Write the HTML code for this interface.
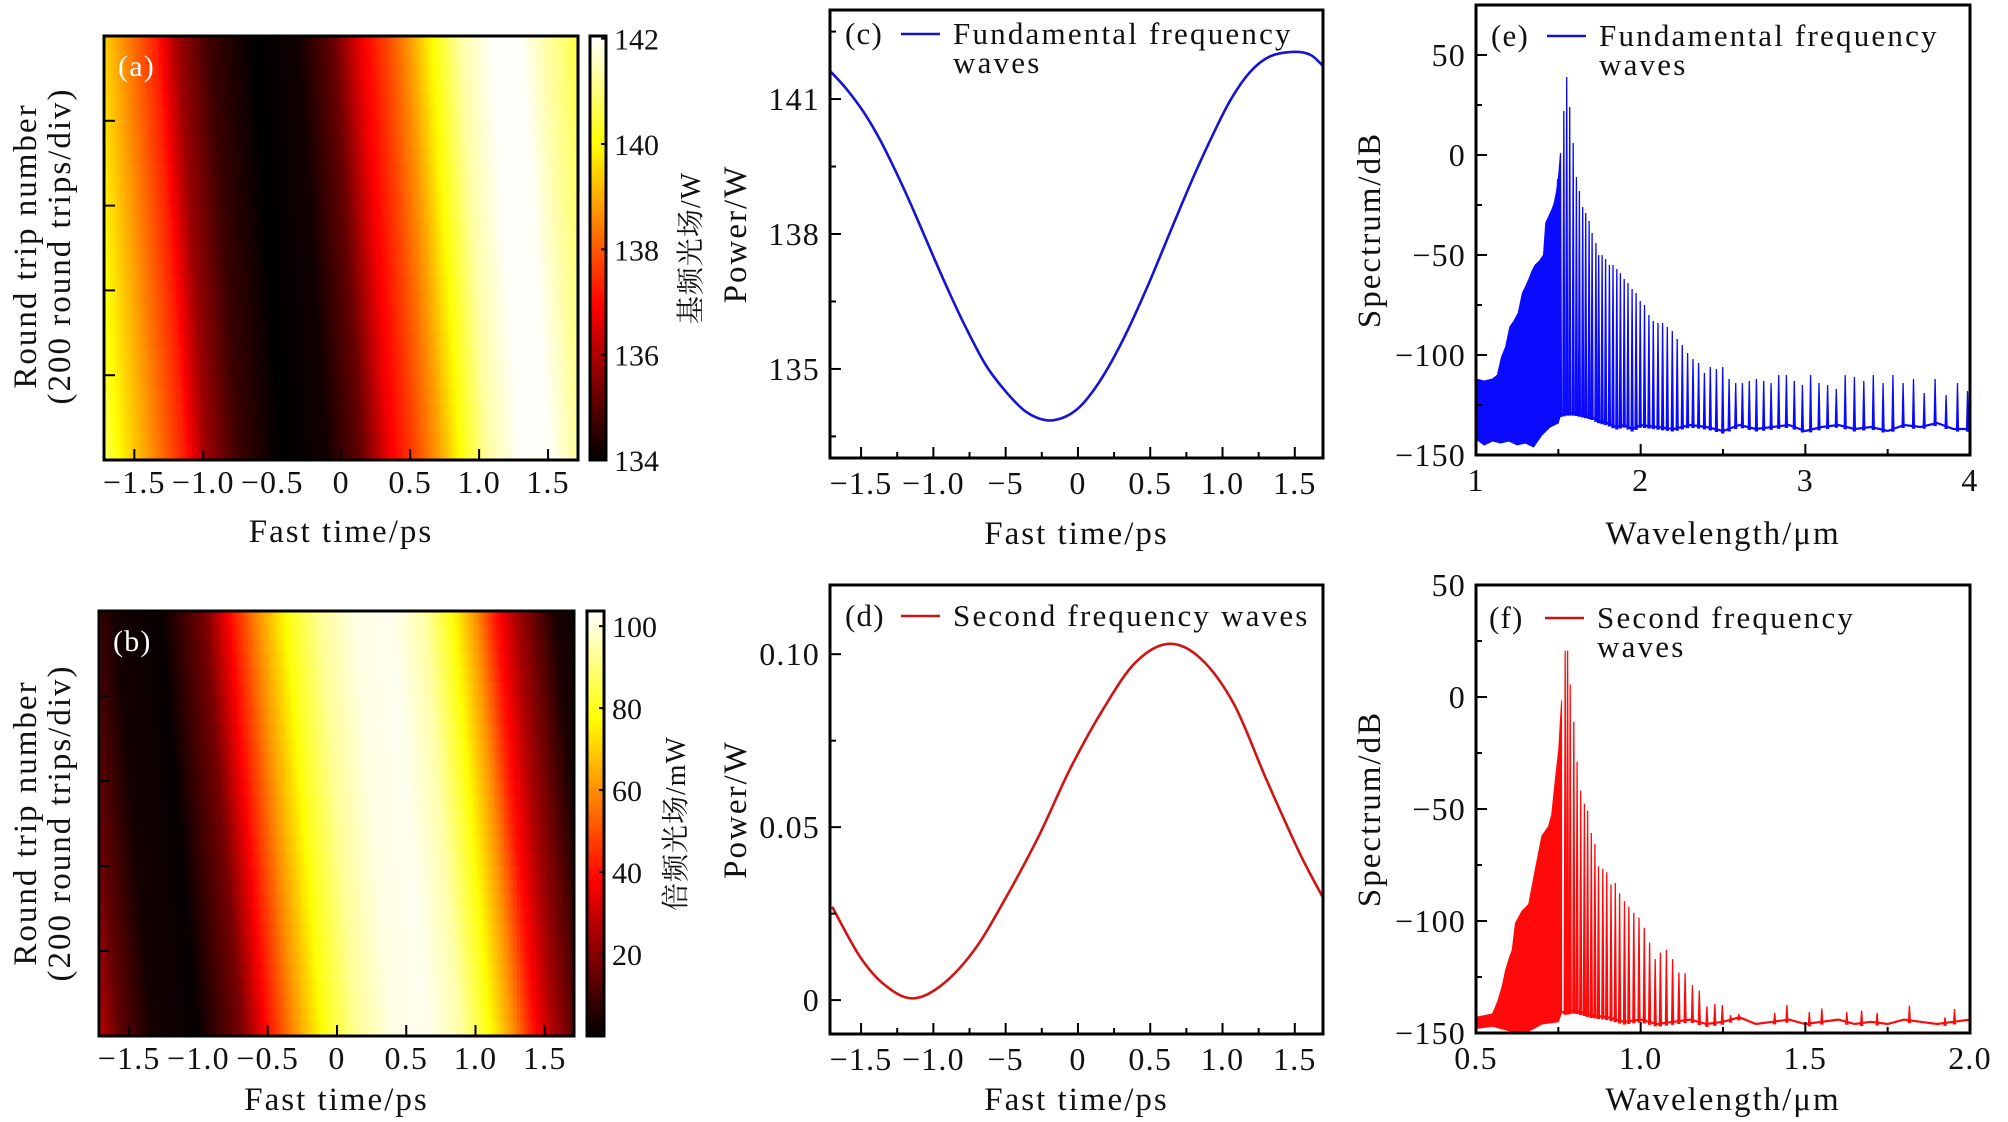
<!DOCTYPE html>
<html><head><meta charset="utf-8">
<style>
html,body{margin:0;padding:0;background:#fff;}
svg{display:block;}
text{font-family:"Liberation Serif","Noto Serif CJK SC",serif;fill:#111;}
</style></head>
<body>
<svg id="chart" width="2008" height="1122" viewBox="0 0 2008 1122" xmlns="http://www.w3.org/2000/svg">
<defs>
<clipPath id="clipA"><rect x="104" y="36" width="474" height="424"/></clipPath>
<clipPath id="clipB"><rect x="99" y="611" width="475" height="425"/></clipPath>
<clipPath id="clipC"><rect x="830" y="10" width="493" height="448"/></clipPath>
<clipPath id="clipD"><rect x="830" y="585" width="493" height="449"/></clipPath>
<clipPath id="clipE"><rect x="1476" y="5" width="494" height="450"/></clipPath>
<clipPath id="clipF"><rect x="1476" y="585" width="494" height="448"/></clipPath>
</defs>
</svg>
<script>
// ---------- DATA ----------
const cTime  = [-1.71,-1.60,-1.48,-1.37,-1.26,-1.15,-1.00,-0.89,-0.78,-0.64,-0.50,-0.36,-0.22,-0.10,0.01,0.12,0.23,0.35,0.49,0.60,0.71,0.81,0.91,1.05,1.19,1.33,1.50,1.61,1.69];
const cPower = [141.61,141.22,140.70,140.10,139.39,138.62,137.50,136.70,135.95,135.10,134.50,134.05,133.86,133.92,134.15,134.58,135.15,135.90,136.90,137.75,138.60,139.35,140.05,140.95,141.60,141.95,142.05,141.98,141.75];
const dTime  = [-1.70,-1.51,-1.34,-1.15,-0.95,-0.72,-0.50,-0.27,-0.05,0.18,0.40,0.63,0.85,1.08,1.30,1.53,1.69];
const dPower = [0.0270,0.0127,0.0045,0.0005,0.0041,0.0143,0.0295,0.0475,0.0672,0.0845,0.0977,0.1030,0.0987,0.0855,0.0641,0.0428,0.0300];
const aTime  = [-1.85,-1.72,-1.50,-1.24,-1.08,-0.85,-0.53,-0.21,0.05,0.25,0.44,0.60,0.76,0.96,1.19,1.41,1.60,1.70,1.85];
const aPower = [141.0,140.0,138.8,137.3,135.8,134.7,134.0,134.2,135.2,136.8,137.8,138.8,140.0,141.3,142.0,142.0,141.3,141.0,140.3];
const aRowShift = [0.10,0.05,0.00,-0.05,-0.10];
const bTime  = [-1.85,-1.71,-1.47,-1.14,-0.82,-0.63,-0.44,-0.21,0.01,0.27,0.53,0.76,0.95,1.14,1.27,1.43,1.71,1.85];
const bPower = [28,15,3,1,18,40,60,80,93,101,102,95,80,60,42,25,4,2];
const bRowShift = [0.13,0.065,0.00,-0.065,-0.13];
const eEnvL = [1.0,1.05,1.1,1.13,1.155,1.18,1.205,1.23,1.256,1.282,1.30,1.321,1.34,1.359,1.385,1.41,1.423,1.44,1.462,1.475,1.487,1.50,1.513];
const eEnvV = [-112,-113,-112,-110,-101,-96,-86,-83,-79,-69,-66,-62,-58,-55,-53,-50,-34,-31,-27,-24,-19,-12,1];
const ePeakL = [1.551,1.569,1.533,1.590,1.513,1.610,1.495,1.628,1.648,1.666,1.687,1.705,1.728,1.745,1.766,1.787,1.810,1.832,1.855,1.877,1.900,1.923,1.948,1.972,1.997,2.023,2.050,2.077,2.105,2.133,2.162,2.192,2.222,2.253,2.285,2.318,2.352,2.387,2.423,2.460,2.498,2.537,2.577,2.618,2.660,2.703,2.747,2.792,2.838,2.885,2.933,2.982,3.032,3.083,3.135,3.188,3.242,3.298,3.355,3.413,3.472,3.532,3.594,3.657,3.722,3.788,3.855,3.924,3.985];
const ePeakV = [39,24,22,6,1,-11,-12,-18,-26,-29,-33,-39,-44,-50,-50,-52,-55,-55,-57,-59,-62,-64,-67,-69,-73,-75,-80,-83,-84,-84,-86,-88,-92,-95,-99,-102,-104,-109,-106,-107,-106,-112,-114,-114,-113,-112,-113,-114,-110,-110,-113,-115,-110,-114,-115,-117,-110,-111,-113,-110,-114,-110,-114,-112,-119,-112,-120,-114,-118];
const eFloorL = [1.0,1.05,1.1,1.15,1.2,1.25,1.3,1.35,1.4,1.45,1.5,1.55,1.6,1.65,1.7,1.75,1.8,1.85,1.9,1.95,2.0,2.1,2.2,2.3,2.4,2.5,2.6,2.7,2.8,2.9,3.0,3.1,3.2,3.3,3.4,3.5,3.6,3.7,3.8,3.9,4.0];
const eFloorV = [-138,-141,-139,-140,-139,-141,-140,-142,-136,-132,-130,-129,-129,-130,-131,-133,-134,-136,-135,-137,-135,-136,-137,-135,-136,-138,-135,-137,-136,-135,-138,-136,-135,-137,-136,-138,-135,-136,-134,-137,-137];
const fEnvL = [0.5,0.55,0.566,0.58,0.59,0.60,0.61,0.62,0.64,0.66,0.68,0.70,0.72,0.73,0.741,0.751,0.76];
const fEnvV = [-143,-141.5,-136,-129,-122,-117,-113,-101,-95.5,-92.6,-77,-62,-57.8,-52.6,-36.7,-23.7,-1.5];
const fPeakL = [0.771,0.778,0.786,0.797,0.807,0.818,0.829,0.839,0.850,0.861,0.872,0.885,0.897,0.910,0.923,0.936,0.951,0.964,0.979,0.995,1.011,1.027,1.044,1.060,1.078,1.097,1.116,1.135,1.157,1.178,1.201,1.225,1.248,1.273,1.298,1.407,1.444,1.512,1.550,1.626,1.671,1.718,1.816,1.924,1.953];
const fPeakV = [20.7,20.7,5.6,-11.1,-28.9,-41.8,-47.7,-50.7,-60.7,-65.5,-75.6,-76.7,-78.2,-83.7,-83.0,-87.7,-91.1,-93.6,-96.3,-98.5,-103.0,-109.6,-117.0,-114.1,-112.9,-117.0,-123.0,-123.3,-128.6,-131.1,-138.1,-137.0,-137.5,-142.0,-141.5,-141,-137.5,-140.7,-139,-140.7,-140,-141,-137.8,-143,-139.3];
const fFloorL = [0.5,0.55,0.6,0.65,0.7,0.75,0.8,0.85,0.9,0.95,1.0,1.05,1.1,1.15,1.2,1.25,1.3,1.35,1.4,1.45,1.5,1.55,1.6,1.65,1.7,1.75,1.8,1.85,1.9,1.95,2.0];
const fFloorV = [-144,-143,-145,-146,-142,-141,-140,-142,-143,-145,-144,-146,-145,-144,-146,-145,-143,-146,-145,-144,-146,-145,-144,-146,-145,-146,-144,-145,-146,-145,-144];
const tTicks = [-1.5,-1.0,-0.5,0,0.5,1.0,1.5];
const tLabelsHeat = ['−1.5','−1.0','−0.5','0','0.5','1.0','1.5'];
const tLabelsLine = ['−1.5','−1.0','−5','0','0.5','1.0','1.5'];
const cYTicks = [135,138,141];
const dYTicks = [0,0.05,0.10];
const dYLabels = ['0','0.05','0.10'];
const eXTicks = [1,2,3,4];
const fXTicks = [0.5,1.0,1.5,2.0];
const fXLabels = ['0.5','1.0','1.5','2.0'];
const specYTicks = [-150,-100,-50,0,50];
const specYLabels = ['−150','−100','−50','0','50'];
const rtTicks = [200,400,600,800];
const cbATicks = [134,136,138,140,142];
const cbBTicks = [20,40,60,80,100];

// ---------- HELPERS ----------
const NS='http://www.w3.org/2000/svg';
const svg=document.getElementById('chart');
const FS=32, LS=1.2;
function mk(tag,parent){const e=document.createElementNS(NS,tag);(parent||svg).appendChild(e);return e;}
function set(e,o){for(const k in o)e.setAttribute(k,o[k]);return e;}
function lin(xs,ys,x){if(x<=xs[0])return ys[0];for(let i=1;i<xs.length;i++){if(x<=xs[i]){const f=(x-xs[i-1])/(xs[i]-xs[i-1]);return ys[i-1]+f*(ys[i]-ys[i-1]);}}return ys[ys.length-1];}
function mkScale(d0,d1,r0,r1){return v=>r0+(v-d0)/(d1-d0)*(r1-r0);}
function hot(v){v=Math.max(0,Math.min(1,v));const r=Math.min(1,v/0.365),g=Math.max(0,Math.min(1,(v-0.365)/0.381)),b=Math.max(0,Math.min(1,(v-0.746)/0.254));return 'rgb('+Math.round(r*255)+','+Math.round(g*255)+','+Math.round(b*255)+')';}
function txt(s,x,y,size,anchor,parent,ls){const t=mk('text',parent);set(t,{x:x,y:y,'font-size':size,'text-anchor':anchor||'middle','letter-spacing':(ls===undefined?LS:ls)});t.textContent=s;return t;}
function catmull(pts){let d='M'+pts[0][0].toFixed(2)+','+pts[0][1].toFixed(2);for(let i=0;i<pts.length-1;i++){const p0=pts[Math.max(0,i-1)],p1=pts[i],p2=pts[i+1],p3=pts[Math.min(pts.length-1,i+2)];const c1x=p1[0]+(p2[0]-p0[0])/6,c1y=p1[1]+(p2[1]-p0[1])/6,c2x=p2[0]-(p3[0]-p1[0])/6,c2y=p2[1]-(p3[1]-p1[1])/6;d+=' C'+c1x.toFixed(2)+','+c1y.toFixed(2)+' '+c2x.toFixed(2)+','+c2y.toFixed(2)+' '+p2[0].toFixed(2)+','+p2[1].toFixed(2);}return d;}

function tickLine(g,x1,y1,x2,y2){const l=mk('line',g);set(l,{x1:x1,y1:y1,x2:x2,y2:y2,stroke:'#000','stroke-width':2});

}

function frame(g,L){const r=mk('rect',g);set(r,{x:L.x0,y:L.y0,width:L.x1-L.x0,height:L.y1-L.y0,fill:'none',stroke:'#000','stroke-width':3});

}

function xAxis(g,L,sx,ticks,labels,minor,labY,title,titleY){
  const ax=mk('g',g);
  
  
  ticks.forEach((t,i)=>{const x=sx(t);tickLine(ax,x,L.y1,x,L.y1-11);
    const lb=txt(labels[i],x,labY,FS,'middle',ax);
    
    });
  (minor||[]).forEach(t=>{const x=sx(t);tickLine(ax,x,L.y1,x,L.y1-6);});
  const tt=txt(title,(L.x0+L.x1)/2,titleY,FS+1,'middle',ax,2);
  
  
}
function yAxis(g,L,sy,ticks,labels,minor,title,titleX,titleY){
  const ax=mk('g',g);
  
  
  ticks.forEach((t,i)=>{const y=sy(t);tickLine(ax,L.x0,y,L.x0+11,y);
    if(labels){const lb=txt(labels[i],L.x0-10,y+11,FS,'end',ax);
    
    }});
  (minor||[]).forEach(t=>{const y=sy(t);tickLine(ax,L.x0,y,L.x0+6,y);});
  if(title){title.forEach((s,i)=>{const tt=txt(s,0,0,FS+1,'middle',ax,2);
    set(tt,{transform:'translate('+(titleX+i*34)+','+titleY+') rotate(-90)'});
    
    });}
}

// ---------- HEATMAPS ----------
function heatmap(id,L,clip,tArr,vArr,shifts,vmin,vmax,xmin,xmax,cb,cbTicks,cbTitle,cbTitleX,yTitleX,yTitleY,xTitleY){
  const g=mk('g');
  
  
  const sx=mkScale(xmin,xmax,L.x0,L.x1);
  const sy=mkScale(0,1000,L.y1,L.y0);
  const cells=mk('g',g);set(cells,{'clip-path':'url(#'+clip+')'});
  
  
  const rows=30,cols=150;const cw=(L.x1-L.x0)/cols,rh=(L.y1-L.y0)/rows;
  for(let r=0;r<rows;r++){
    const sh=lin(shifts.map((_,i)=>i/(shifts.length-1)),shifts,r/(rows-1));
    for(let c=0;c<cols;c++){
      const t=xmin+(c+0.5)/cols*(xmax-xmin);
      const v=lin(tArr,vArr,t+sh);
      const rc=mk('rect',cells);
      set(rc,{x:(L.x0+c*cw).toFixed(2),y:(L.y0+r*rh).toFixed(2),width:(cw+0.6).toFixed(2),height:(rh+0.6).toFixed(2),fill:hot((v-vmin)/(vmax-vmin))});
      
      
    }
  }
  frame(g,L);
  xAxis(g,L,sx,tTicks,tLabelsHeat,null,L.y1+33,'Fast time/ps',xTitleY);
  yAxis(g,L,sy,rtTicks,null,null,['Round trip number','(200 round trips/div)'],yTitleX,yTitleY);
  const pl=txt('('+id+')',L.x0+14,L.y0+40,30,'start',g);pl.style.fill='#fff';
  
  
  const cg=mk('g',g);
  
  
  const n=120;const h=(cb.y1-cb.y0)/n;
  for(let i=0;i<n;i++){const rc=mk('rect',cg);set(rc,{x:cb.x0,y:(cb.y0+i*h).toFixed(2),width:cb.x1-cb.x0,height:(h+0.6).toFixed(2),fill:hot(1-(i+0.5)/n)});
    
    }
  const fr=mk('rect',cg);set(fr,{x:cb.x0,y:cb.y0,width:cb.x1-cb.x0,height:cb.y1-cb.y0,fill:'none',stroke:'#000','stroke-width':3});
  
  
  const csy=mkScale(vmin,vmax,cb.y1,cb.y0);
  cbTicks.forEach(t=>{const y=csy(t);tickLine(cg,cb.x1,y,cb.x1-5,y);
    const lb=txt(String(t),cb.x1+8,y+11,30,'start',cg,0);
    
    });
  const ct=txt(cbTitle,0,0,28,'middle',cg,1);set(ct,{transform:'translate('+cbTitleX+','+((cb.y0+cb.y1)/2)+') rotate(-90)'});
  
  
}
heatmap('a',{x0:104,x1:578,y0:36,y1:460},'clipA',aTime,aPower,aRowShift,134,142.05,-1.72,1.717,{x0:590,x1:606,y0:36,y1:460},cbATicks,'基频光场/W',700,36,246,542);
heatmap('b',{x0:99,x1:574,y0:611,y1:1036},'clipB',bTime,bPower,bRowShift,0,103.7,-1.718,1.711,{x0:587,x1:604,y0:611,y1:1036},cbBTicks,'倍频光场/mW',685,36,823,1110);

// ---------- LINE PLOTS ----------
function legend(g,id,x,y,color,lines){
  const lg=mk('g',g);
  
  
  const pl=txt('('+id+')',x,y+10,31,'start',lg);
  
  
  const ln=mk('line',lg);set(ln,{x1:x+56,y1:y,x2:x+95,y2:y,stroke:color,'stroke-width':2.6});
  
  
  lines.forEach((s,i)=>{const t=txt(s,x+108,y+10+i*29,31,'start',lg,2.2);
    
    });
}
function linePlot(id,L,clip,xs,ys,xmin,xmax,ymin,ymax,yTicks,yLabels,yMinor,color,legendColor,legendLines,legX,legY,titleY){
  const g=mk('g');
  
  
  const sx=mkScale(xmin,xmax,L.x0,L.x1),sy=mkScale(ymin,ymax,L.y1,L.y0);
  const pts=xs.map((x,i)=>[sx(x),sy(ys[i])]);
  const p=mk('path',g);set(p,{d:catmull(pts),fill:'none',stroke:color,'stroke-width':2.6,'clip-path':'url(#'+clip+')'});
  
  
  frame(g,L);
  xAxis(g,L,sx,tTicks,tLabelsLine,[-1.25,-0.75,-0.25,0.25,0.75,1.25],L.y1+36,'Fast time/ps',titleY);
  yAxis(g,L,sy,yTicks,yLabels,yMinor,['Power/W'],L.x0-84,(L.y0+L.y1)/2);
  legend(g,id,legX,legY,legendColor,legendLines);
}
linePlot('c',{x0:830,x1:1323,y0:10,y1:458},'clipC',cTime,cPower,-1.715,1.695,133.02,142.98,cYTicks,['135','138','141'],[133.5,136.5,139.5,142.5],'#1414d2','#1414c8',['Fundamental frequency','waves'],845,34,544);
linePlot('d',{x0:830,x1:1323,y0:585,y1:1034},'clipD',dTime,dPower,-1.715,1.695,-0.0098,0.120,dYTicks,dYLabels,[0.025,0.075],'#d01414','#c81414',['Second frequency waves'],845,616,1110);

// ---------- SPECTRA ----------
function specPlot(id,L,clip,xmin,xmax,ymin,ymax,xTicks,xLabels,xMinor,envL,envV,pkL,pkV,flL,flV,color,legendColor,legendLines,legX,legY,titleY){
  const g=mk('g');
  
  
  const sx=mkScale(xmin,xmax,L.x0,L.x1),sy=mkScale(ymin,ymax,L.y1,L.y0);
  const dg=mk('g',g);set(dg,{'clip-path':'url(#'+clip+')'});
  
  
  const lastL=envL[envL.length-1];
  let pts=envL.map((l,i)=>sx(l).toFixed(1)+','+sy(envV[i]).toFixed(1));
  for(let i=flL.length-1;i>=0;i--){ if(flL[i]<=lastL) pts.push(sx(flL[i]).toFixed(1)+','+sy(flV[i]-4).toFixed(1)); }
  pts.splice(envL.length,0,sx(lastL).toFixed(1)+','+sy(lin(flL,flV,lastL)).toFixed(1));
  const fill=mk('polygon',dg);set(fill,{points:pts.join(' '),fill:color,stroke:color,'stroke-width':1});
  
  
  const fp=flL.map((l,i)=>sx(l).toFixed(1)+','+sy(flV[i]).toFixed(1)).join(' ');
  const fl=mk('polyline',dg);set(fl,{points:fp,fill:'none',stroke:color,'stroke-width':2.2});
  
  
  pkL.forEach((l,i)=>{const x=sx(l),base=sy(lin(flL,flV,l)-1),top=sy(pkV[i]);
    const pk=mk('polygon',dg);set(pk,{points:(x-1.0).toFixed(1)+','+base.toFixed(1)+' '+x.toFixed(1)+','+top.toFixed(1)+' '+(x+1.0).toFixed(1)+','+base.toFixed(1),fill:color,stroke:color,'stroke-width':1.3});
    
    });
  frame(g,L);
  xAxis(g,L,sx,xTicks,xLabels,xMinor,L.y1+36,'Wavelength/μm',titleY);
  yAxis(g,L,sy,specYTicks,specYLabels,[-125,-75,-25,25],['Spectrum/dB'],L.x0-96,(L.y0+L.y1)/2);
  legend(g,id,legX,legY,legendColor,legendLines);
}
specPlot('e',{x0:1476,x1:1970,y0:5,y1:455},'clipE',1,4,-150,75,eXTicks,['1','2','3','4'],[1.5,2.5,3.5],eEnvL,eEnvV,ePeakL,ePeakV,eFloorL,eFloorV,'#0a0aff','#1414c8',['Fundamental frequency','waves'],1491,36,544);
specPlot('f',{x0:1476,x1:1970,y0:585,y1:1033},'clipF',0.5,2.0,-150,50,fXTicks,fXLabels,[0.75,1.25,1.75],fEnvL,fEnvV,fPeakL,fPeakV,fFloorL,fFloorV,'#ff0a0a','#c81414',['Second frequency','waves'],1489,618,1110);
</script>
</body></html>
